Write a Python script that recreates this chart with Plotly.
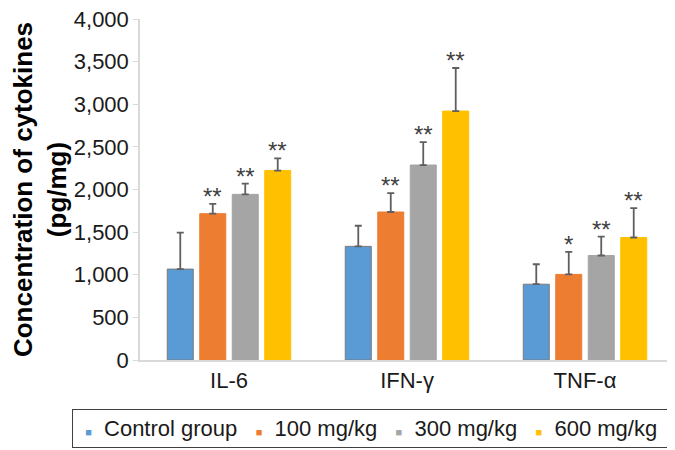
import plotly.graph_objects as go

categories = ["IL-6", "IFN-γ", "TNF-α"]
series_names = ["Control group", "100 mg/kg", "300 mg/kg", "600 mg/kg"]
means = [
    [1066, 1333, 889],
    [1716, 1736, 1004],
    [1943, 2287, 1226],
    [2222, 2920, 1437],
]
errors_plus = [
    [428, 242, 234],
    [115, 222, 264],
    [126, 268, 222],
    [142, 505, 345],
]
stars = [
    ["", "", ""],
    ["**", "**", "*"],
    ["**", "**", "**"],
    ["**", "**", "**"],
]
colors = ["#5B9BD5", "#ED7D31", "#A5A5A5", "#FFC000"]
outlines = ["#7a7a7a", "#ED7D31", "#A5A5A5", "#FFC000"]
y_ticks = [0, 500, 1000, 1500, 2000, 2500, 3000, 3500, 4000]

FONT = "Liberation Sans, Arial"

fig = go.Figure()
for i, name in enumerate(series_names):
    fig.add_trace(go.Bar(
        name=name, x=categories, y=means[i],
        marker=dict(color=colors[i], line=dict(color=outlines[i], width=1)),
        error_y=dict(type="data", symmetric=False, array=errors_plus[i],
                     arrayminus=[0, 0, 0], color="#5f5f5f", thickness=1.8, width=3.5),
        offsetgroup=str(i), showlegend=False,
    ))

# star annotations placed above error bars
ngroups = len(series_names)
bargap = 0.27
slot = (1 - bargap) / ngroups
annotations = []
for i in range(ngroups):
    for j, cat in enumerate(categories):
        if stars[i][j]:
            offset = -(1 - bargap) / 2 + slot * (i + 0.5)
            annotations.append(dict(
                x=j + offset, y=means[i][j] + errors_plus[i][j],
                xref="x", yref="y", text=stars[i][j], showarrow=False,
                yanchor="bottom", yshift=-8,
                font=dict(family=FONT, size=24, color="#404040"),
            ))

# compact legend drawn as a bordered annotation
parts = []
for name, c in zip(series_names, colors):
    parts.append(f'<span style="color:{c};font-size:11px">■</span>&nbsp;&nbsp;{name}')
legend_text = "&nbsp;" + "&nbsp;&nbsp;&nbsp;".join(parts) + "&nbsp;"
annotations.append(dict(
    x=0.9925, y=-0.145, xref="paper", yref="paper", xanchor="right", yanchor="top",
    text=legend_text, showarrow=False, align="left",
    font=dict(family=FONT, size=22, color="#1a1a1a"),
    bordercolor="#404040", borderwidth=1, borderpad=6, bgcolor="white",
))

fig.update_layout(
    width=675, height=450,
    margin=dict(l=132, r=9, t=11, b=98),
    paper_bgcolor="white", plot_bgcolor="white",
    barmode="group", bargap=bargap, bargroupgap=0.2,
    font=dict(family=FONT, size=22, color="#1a1a1a"),
    showlegend=False,
    xaxis=dict(
        type="category", showline=True, linecolor="#d9d9d9", linewidth=1.5,
        ticks="", tickfont=dict(size=22), range=[-0.5, 2.5], automargin=False,
    ),
    yaxis=dict(
        range=[0, 4000], tickvals=y_ticks, tickformat=",d",
        showline=True, linecolor="#d9d9d9", linewidth=1.5, showgrid=False,
        ticks="outside", ticklen=5, tickcolor="#d9d9d9", tickfont=dict(size=22),
        ticklabeloverflow="allow",
        zeroline=False, automargin=False,
        title=dict(text="<b>Concentration of cytokines<br>(pg/mg)</b>",
                   font=dict(size=26, color="#000000"), standoff=28),
    ),
    annotations=annotations,
)

fig.write_html("out.html")
